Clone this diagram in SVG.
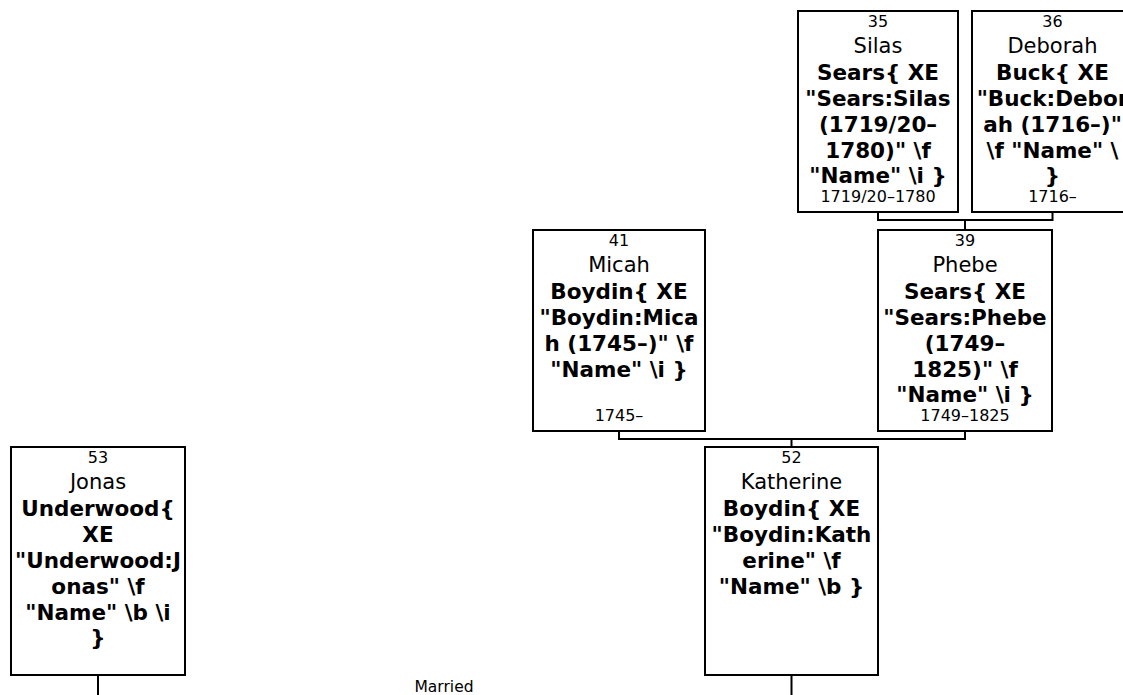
<svg xmlns="http://www.w3.org/2000/svg" width="1123" height="695" viewBox="0 0 1123 695">
<style>
.box{fill:#fff;stroke:#000;stroke-width:2}
.con{fill:none;stroke:#000;stroke-width:2}
text{font-family:"DejaVu Sans","Verdana",sans-serif;fill:#000;text-anchor:middle}
.num{font-size:16px}
.given{font-size:21px}
.sur{font-size:21.5px;font-weight:bold}
.date{font-size:16px}
.lbl{font-size:15.5px}
</style>
<rect width="1123" height="695" fill="#fff"/>
<g id="connectors">
<path class="con" d="M878 212V220H1052.5V212M965 220V230"/>
<path class="con" d="M619 431V439H965V431M791.5 439V447"/>
<path class="con" d="M98 675V695M791.5 675V695"/>
</g>
<g id="n35">
<rect class="box" x="798" y="11" width="160" height="201"/>
<text class="num" x="878" y="27">35</text>
<text class="given" x="878" y="53">Silas</text>
<text class="sur" x="878" y="80">Sears{ XE</text>
<text class="sur" x="878" y="106">"Sears:Silas</text>
<text class="sur" x="878" y="132">(1719/20–</text>
<text class="sur" x="878" y="158">1780)" \f</text>
<text class="sur" x="878" y="183">"Name" \i }</text>
<text class="date" x="878" y="202">1719/20–1780</text>
</g>
<g id="n36">
<rect class="box" x="972" y="11" width="161" height="201"/>
<text class="num" x="1052.5" y="27">36</text>
<text class="given" x="1052.5" y="53">Deborah</text>
<text class="sur" x="1052.5" y="80">Buck{ XE</text>
<text class="sur" x="1052.5" y="106">"Buck:Debor</text>
<text class="sur" x="1052.5" y="132">ah (1716–)"</text>
<text class="sur" x="1052.5" y="158">\f "Name" \</text>
<text class="sur" x="1052.5" y="183">}</text>
<text class="date" x="1052.5" y="202">1716–</text>
</g>
<g id="n41">
<rect class="box" x="533" y="230" width="172" height="201"/>
<text class="num" x="619" y="246">41</text>
<text class="given" x="619" y="272">Micah</text>
<text class="sur" x="619" y="299">Boydin{ XE</text>
<text class="sur" x="619" y="325">"Boydin:Mica</text>
<text class="sur" x="619" y="351">h (1745–)" \f</text>
<text class="sur" x="619" y="377">"Name" \i }</text>
<text class="date" x="619" y="421">1745–</text>
</g>
<g id="n39">
<rect class="box" x="878" y="230" width="174" height="201"/>
<text class="num" x="965" y="246">39</text>
<text class="given" x="965" y="272">Phebe</text>
<text class="sur" x="965" y="299">Sears{ XE</text>
<text class="sur" x="965" y="325">"Sears:Phebe</text>
<text class="sur" x="965" y="351">(1749–</text>
<text class="sur" x="965" y="377">1825)" \f</text>
<text class="sur" x="965" y="402">"Name" \i }</text>
<text class="date" x="965" y="421">1749–1825</text>
</g>
<g id="n52">
<rect class="box" x="705" y="447" width="173" height="228"/>
<text class="num" x="791.5" y="463">52</text>
<text class="given" x="791.5" y="489">Katherine</text>
<text class="sur" x="791.5" y="516">Boydin{ XE</text>
<text class="sur" x="791.5" y="542">"Boydin:Kath</text>
<text class="sur" x="791.5" y="568">erine" \f</text>
<text class="sur" x="791.5" y="594">"Name" \b }</text>
</g>
<g id="n53">
<rect class="box" x="11" y="447" width="174" height="228"/>
<text class="num" x="98" y="463">53</text>
<text class="given" x="98" y="489">Jonas</text>
<text class="sur" x="98" y="516">Underwood{</text>
<text class="sur" x="98" y="542">XE</text>
<text class="sur" x="98" y="568">"Underwood:J</text>
<text class="sur" x="98" y="594">onas" \f</text>
<text class="sur" x="98" y="620">"Name" \b \i</text>
<text class="sur" x="98" y="645">}</text>
</g>
<text class="lbl" x="444" y="692">Married</text>
</svg>
